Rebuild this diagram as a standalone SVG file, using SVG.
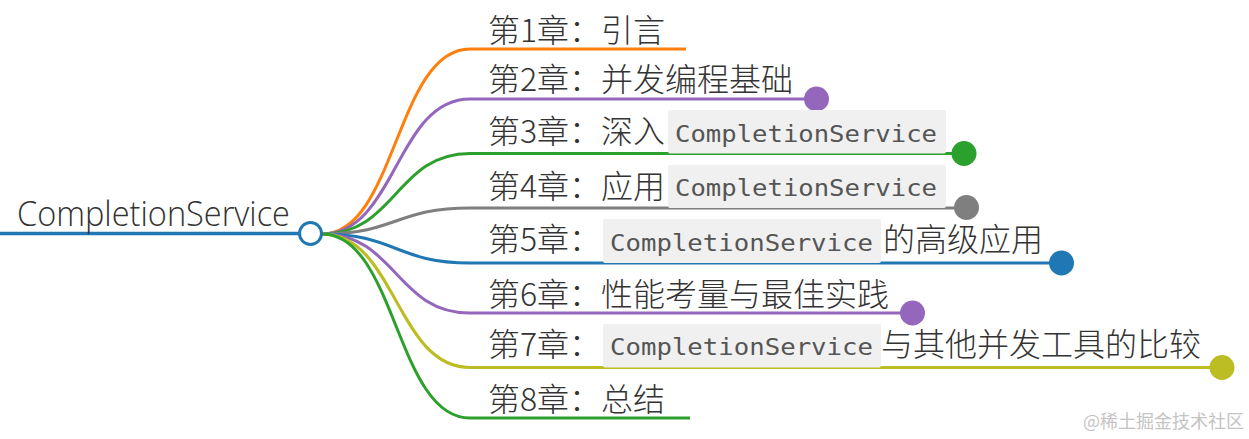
<svg xmlns="http://www.w3.org/2000/svg" width="1249" height="439" viewBox="0 0 1249 439">
<style>
.t{font-family:"Noto Sans CJK SC","Noto Sans",sans-serif;font-size:32px;font-weight:300;fill:#333}
.root{font-family:"Open Sans","Noto Sans",sans-serif;font-size:34px;font-weight:300;fill:#333}
.code{font-family:"DejaVu Sans Mono","Liberation Mono",monospace;font-size:23px;fill:#555}
.box{fill:#f0f0f0}
.ln{fill:none;stroke-width:3;stroke-linecap:butt}
.c1{stroke:#ff7f0e}.c2{stroke:#9467bd}.c3{stroke:#2ca02c}.c4{stroke:#7f7f7f}.c5{stroke:#1f77b4}.c7{stroke:#bcbd22}
.f2{fill:#9467bd}.f3{fill:#2ca02c}.f4{fill:#7f7f7f}.f5{fill:#1f77b4}.f7{fill:#bcbd22}
.wm{font-family:"Noto Sans CJK SC",sans-serif;font-size:18px;fill:#c4c4c4}
</style>
<g id="connectors">
<path class="ln c1" d="M322,234 C396,234 396,49 470,49"/>
<path class="ln c2" d="M322,234 C396,234 396,99 470,99"/>
<path class="ln c3" d="M322,234 C396,234 396,153.5 470,153.5"/>
<path class="ln c4" d="M322,234 C396,234 396,208 470,208"/>
<path class="ln c5" d="M322,234 C396,234 396,263 470,263"/>
<path class="ln c2" d="M322,234 C396,234 396,313 470,313"/>
<path class="ln c7" d="M322,234 C396,234 396,367.5 470,367.5"/>
<path class="ln c3" d="M322,234 C396,234 396,418 470,418"/>
</g>
<g id="root">
<line x1="0" y1="233.5" x2="299" y2="233.5" stroke="#1f77b4" stroke-width="3.5"/>
<text class="root" x="17" y="225.5" textLength="273" lengthAdjust="spacingAndGlyphs">CompletionService</text>
<circle cx="310.5" cy="233.5" r="11" fill="#fff" stroke="#1f77b4" stroke-width="3"/>
</g>
<g id="ch1">
<line class="ln c1" x1="470" y1="49" x2="686" y2="49"/>
<text class="t" x="488" y="41.5">第1章：引言</text>
</g>
<g id="ch2">
<line class="ln c2" x1="470" y1="99" x2="816.5" y2="99"/>
<text class="t" x="488" y="91">第2章：并发编程基础</text>
<circle class="f2" cx="816.5" cy="99" r="12.5"/>
</g>
<g id="ch3">
<line class="ln c3" x1="470" y1="153.5" x2="964" y2="153.5"/>
<text class="t" x="488" y="143">第3章：深入</text>
<rect class="box" x="668" y="110" width="278" height="43.5" rx="2"/>
<text class="code" x="675" y="141.7" textLength="262" lengthAdjust="spacingAndGlyphs">CompletionService</text>
<circle class="f3" cx="964" cy="153.5" r="12.5"/>
</g>
<g id="ch4">
<line class="ln c4" x1="470" y1="208" x2="966.5" y2="208"/>
<text class="t" x="488" y="198">第4章：应用</text>
<rect class="box" x="668" y="165" width="278" height="43" rx="2"/>
<text class="code" x="675" y="196" textLength="262" lengthAdjust="spacingAndGlyphs">CompletionService</text>
<circle class="f4" cx="966.5" cy="207.5" r="12.5"/>
</g>
<g id="ch5">
<line class="ln c5" x1="470" y1="263" x2="1061.5" y2="263"/>
<text class="t" x="488" y="251">第5章：</text>
<rect class="box" x="603" y="219" width="278" height="44" rx="2"/>
<text class="code" x="610" y="250.7" textLength="263" lengthAdjust="spacingAndGlyphs">CompletionService</text>
<text class="t" x="883" y="251">的高级应用</text>
<circle class="f5" cx="1061.5" cy="263" r="12.5"/>
</g>
<g id="ch6">
<line class="ln c2" x1="470" y1="313" x2="912.5" y2="313"/>
<text class="t" x="488" y="306">第6章：性能考量与最佳实践</text>
<circle class="f2" cx="912.5" cy="313" r="12.5"/>
</g>
<g id="ch7">
<line class="ln c7" x1="470" y1="367.5" x2="1222" y2="367.5"/>
<text class="t" x="488" y="356">第7章：</text>
<rect class="box" x="603" y="324" width="278" height="43.5" rx="2"/>
<text class="code" x="610" y="355" textLength="263" lengthAdjust="spacingAndGlyphs">CompletionService</text>
<text class="t" x="881" y="356">与其他并发工具的比较</text>
<circle class="f7" cx="1222" cy="367.5" r="12.5"/>
</g>
<g id="ch8">
<line class="ln c3" x1="470" y1="418" x2="690" y2="418"/>
<text class="t" x="488" y="411">第8章：总结</text>
</g>
<text class="wm" x="1083" y="428">@稀土掘金技术社区</text>
</svg>
